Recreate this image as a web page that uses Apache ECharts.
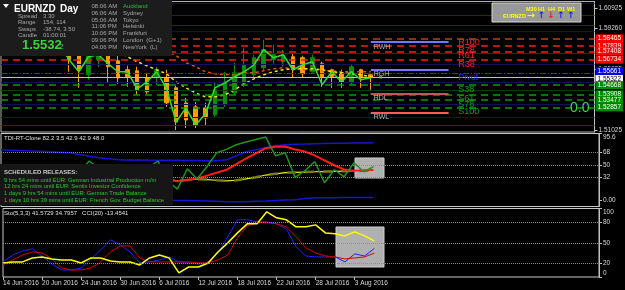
<!DOCTYPE html>
<html><head><meta charset="utf-8">
<script src="https://cdn.jsdelivr.net/npm/echarts@6/dist/echarts.min.js"></script>
<style>html,body{margin:0;padding:0;background:#000;}#c{width:625px;height:290px;}</style>
</head><body><div id="c"></div>
<script>
// ---------- data ----------
const categories = ['14 Jun 2016','15 Jun 2016','16 Jun 2016','17 Jun 2016','20 Jun 2016','21 Jun 2016','22 Jun 2016','23 Jun 2016','24 Jun 2016','27 Jun 2016','28 Jun 2016','29 Jun 2016','30 Jun 2016','1 Jul 2016','4 Jul 2016','5 Jul 2016','6 Jul 2016','7 Jul 2016','8 Jul 2016','11 Jul 2016','12 Jul 2016','13 Jul 2016','14 Jul 2016','15 Jul 2016','18 Jul 2016','19 Jul 2016','20 Jul 2016','21 Jul 2016','22 Jul 2016','25 Jul 2016','26 Jul 2016','27 Jul 2016','28 Jul 2016','29 Jul 2016','1 Aug 2016','2 Aug 2016','3 Aug 2016','4 Aug 2016','5 Aug 2016'];
const opens  = [1.59179,1.59587,1.59016,1.59342,1.58526,1.58853,1.58037,1.57547,1.57302,1.55507,1.56731,1.57139,1.56649,1.55915,1.55833,1.55262,1.55344,1.55262,1.54446,1.53222,1.52896,1.52814,1.52243,1.53141,1.54038,1.54691,1.55507,1.56078,1.56731,1.56568,1.56976,1.56894,1.55752,1.56405,1.55915,1.55670,1.54854,1.55915,1.55507];
const closes = [1.59587,1.59016,1.59342,1.58526,1.58853,1.58037,1.57547,1.56731,1.55915,1.57139,1.57139,1.56160,1.55262,1.55344,1.54283,1.54120,1.55915,1.53222,1.51672,1.51835,1.51427,1.51998,1.54283,1.54854,1.55670,1.56323,1.56894,1.57547,1.57139,1.57057,1.55915,1.55589,1.56894,1.55344,1.55344,1.54936,1.56160,1.55262,1.55322];
const lows   = [1.58771,1.58526,1.58363,1.58037,1.57955,1.57547,1.57302,1.55752,1.54446,1.55099,1.56160,1.54854,1.54773,1.54528,1.53875,1.53957,1.54691,1.52896,1.51019,1.51182,1.51182,1.51427,1.52080,1.52896,1.53875,1.54528,1.55344,1.55833,1.56405,1.56160,1.55262,1.55262,1.55670,1.54528,1.54446,1.54446,1.54691,1.54446,1.54283];
const highs  = [1.59995,1.60158,1.59832,1.59669,1.59342,1.59179,1.58363,1.57792,1.57384,1.57384,1.57384,1.57302,1.57057,1.56241,1.56160,1.55670,1.56160,1.55915,1.54609,1.53630,1.53304,1.53222,1.54936,1.55752,1.56486,1.57711,1.57139,1.58363,1.57955,1.57547,1.57302,1.57057,1.57139,1.56568,1.55997,1.55915,1.56323,1.55997,1.55589];
const priceLine = [1.59342,1.59505,1.59179,1.58934,1.58689,1.58200,1.57955,1.56731,1.55752,1.56976,1.57139,1.56405,1.55752,1.55752,1.54365,1.54936,1.55752,1.54446,1.51672,1.52814,1.51427,1.52325,1.54446,1.54854,1.55344,1.55752,1.56323,1.57547,1.56894,1.57139,1.55915,1.56323,1.56568,1.54691,1.55752,1.54936,1.55752,1.55099,1.55262];
const fastMA = [1.59587,1.59424,1.59261,1.59097,1.58934,1.58771,1.58608,1.58445,1.58281,1.58037,1.57873,1.57629,1.57384,1.56976,1.56568,1.56241,1.55915,1.55589,1.54936,1.54446,1.54038,1.53712,1.53712,1.53875,1.54283,1.54773,1.55181,1.55507,1.55752,1.55915,1.55997,1.55997,1.55997,1.55915,1.55752,1.55670,1.55589,1.55507,1.55344];
const slowMA = [1.59995,1.59913,1.59832,1.59750,1.59669,1.59587,1.59424,1.59261,1.59097,1.58934,1.58771,1.58608,1.58445,1.58281,1.58118,1.57955,1.57792,1.57465,1.57057,1.56486,1.56160,1.55752,1.55589,1.55507,1.55589,1.55670,1.55670,1.55833,1.55997,1.56078,1.55997,1.55915,1.55915,1.55833,1.55833,1.55752,1.55752,1.55752,1.55752];

const resistanceNames = ['R100','R78','R61','R38'];
const resistance = [1.58465,1.57839,1.57408,1.56734];
const pivotName = 'Pivot';
const pivot = 1.55661;
const supportNames = ['S38','S61','S78','S100'];
const support = [1.54668,1.53908,1.53477,1.52857];
const lastPrice = 1.55322;
const rangeNames = ['RWH','RGH','RDL','RWL'];
const rangeLevels = [1.58160,1.55930,1.53957,1.52420];
const darkNavyLevels = [1.61300,1.59016,1.56323,1.54936,1.53141,1.52080];
const darkGreenLevels = [1.60321,1.59505,1.57221,1.54283,1.51427];
const priceTicks = [1.60925,1.59260,1.55925,1.51025];

const tdiGreen  = [40,44,42,38,36,33,30,34,40,56,45,47,49,44,40,46,56,27.5,15.6,44.8,30,47.7,68,72.7,79.4,83.4,87,90.5,63.5,67.9,32.3,42,55.3,24.7,43.4,33.3,53.5,40.5,48.0];
const tdiRed    = [45,46,46,45,44,42,40,39,40,41,42,43,43,42,40,38,34,29,26.8,29,30.7,34.9,39,43.4,51.4,59.6,67,74.5,76.6,76.8,72.5,69.6,64.1,56.9,49.9,43.8,41.9,42.4,42.9];
const tdiYellow = [44,44,44,44,43,43,42,42,41,41,41,41,40,40,39,37,34,30,27.5,28.5,29.8,29.3,28.3,27.5,28.3,30.4,32.6,35.8,37.6,39.2,39.6,40.1,40.5,40.8,41.1,41.4,41.6,41.8,42.0];
const tdiUpper  = [72.2,71.6,71,70.5,70,69.3,68.6,67.9,65.5,63,60.7,59.2,57.8,57.6,57.5,57.3,57.2,57.1,57,56.8,56.6,56.4,56.3,57.8,63.5,69.3,72.2,75,77.9,79.4,80.1,80.4,80.8,81.1,81.4,81.6,81.8,82,82.2];
const tdiLower  = [8,8,7,7,6,6,5,4,3,3,2,2,1,1,0,0,-0.5,-0.8,-0.8,-1,-1.2,-1.5,-2,-2.5,-2.7,-2.5,-2,-1.5,-0.8,-0.2,0.2,2,3,3.1,3.2,3.3,3.3,3.4,3.5];
const tdiLevels = [68,50,32];
const tdiTicks  = [95.6,68,50,32,0];

const stoK = [22,32.2,38,41,30.7,19,10.2,10.2,13.2,26.4,39.5,54.2,46.9,36.6,20.5,22,24.9,29.3,22,20.5,19,22,35.1,58.6,83.5,83.5,80.5,80.5,77.6,70.3,43.9,30.7,29.3,29.3,29.3,22,33.7,30.7,41.6];
const stoD = [17.6,24.9,32.2,36.6,35.1,26.4,13.2,10.2,10.2,13.2,22,36.6,45.4,45.4,27.8,22,22,22,22,22,20.5,20.5,24.9,32.2,57.1,74.7,79.1,79.1,77.6,73.2,58.6,42.5,35.1,30.7,29.3,26.4,27.8,29.3,34.8];
const cci  = [20.5,22,22,27.8,29.3,26.4,24.9,24.9,20.5,27.8,27.8,23.4,22,22,17.6,27.8,32.2,27.8,6,14.6,14.6,20.5,36.6,49.8,64.4,77.6,77.6,95.2,86.4,83.5,73.2,73.2,76.1,64.4,63,60,65.9,60,52.7];
const stoLevels = [80,50,20];
const stoTicks = [100,80,50,20,0];

// ---------- chart ----------
const FONT = '"Liberation Sans", Arial, sans-serif';
const N = 62;
const axisCats = categories.concat(Array.from({length: N - categories.length}, (_, k) => 'f' + k));
const showDate = (idx) => idx % 4 === 0 && idx < categories.length - 1;
const RIGHT = 26;

const boxLabel = (bg, fg, dy) => ({show:true, position:'end', distance:1, offset:[0, dy || 0],
  formatter: p => Number(p.value).toFixed(5),
  backgroundColor:bg, color:fg, fontSize:6.5, fontFamily:FONT, padding:[1,2,0,2]});

const levelLines = [];
darkNavyLevels.forEach(p => levelLines.push({yAxis:p, lineStyle:{color:'#12124e', width:1, type:'solid'}, label:{show:false}}));
darkGreenLevels.forEach(p => levelLines.push({yAxis:p, lineStyle:{color:'#0b3d0b', width:1, type:'solid'}, label:{show:false}}));
resistance.forEach((p,k) => levelLines.push({yAxis:p, lineStyle:{color: k===0 ? '#b8460f' : '#ff1a1a', width:1.5, type:[7,5]}, label: boxLabel('#ff0000','#ffffff')}));
levelLines.push({yAxis:pivot, lineStyle:{color:'#2a2aff', width:1, type:[6,2,1,2]}, label: boxLabel('#0000ff','#ffffff', -2)});
levelLines.push({yAxis:lastPrice, lineStyle:{color:'#c0c0c0', width:1, type:'solid'}, label: boxLabel('#ffffff','#000000', 2)});
support.forEach(p => levelLines.push({yAxis:p, lineStyle:{color:'#0a9a0a', width:1.5, type:[7,5]}, label: boxLabel('#008a00','#ffffff')}));
const rangeColors = ['#7676ff','#7676ff','#c05a50','#ff5a5a'];
rangeLevels.forEach((p,k) => levelLines.push([
  {coord:[categories.length - 1, p], lineStyle:{color:rangeColors[k], width:2, type:'solid'},
   label:{show:true, position:'insideStartBottom', formatter: rangeNames[k], color:'#b8b8b8', fontSize:7, fontFamily:FONT, distance:[3,1]}},
  {coord:[categories.length + 7, p]}
]));

const levelLabelIdx = categories.length + 8;
const levelNames = resistanceNames.concat([pivotName], supportNames);
const levelValues = resistance.concat([pivot], support);
const levelColors = ['#ff2020','#ff2020','#ff2020','#ff2020','#2a2aff','#14a014','#14a014','#14a014','#14a014'];

const dotted = (vals) => ({silent:true, symbol:['none','none'], label:{show:false},
  lineStyle:{color:'#8c8c8c', type:'dotted', width:1}, data: vals.map(v => ({yAxis:v}))});

const T = (x, y, text, fill, font, align) => ({type:'text', x, y, z:101,
  style:{text, fill, font, textAlign: align || 'left', textVerticalAlign:'middle', align: align || 'left', verticalAlign:'middle'}});

const small = '6px ' + FONT;
const places = [['08:06 AM','Auckland','#22c022'],['06:06 AM','Sydney','#a8a8a8'],['05:06 AM','Tokyo','#a8a8a8'],['11:06 PM','Helsinki','#a8a8a8'],['10:06 PM','Frankfurt','#a8a8a8'],['09:06 PM','London  (G+1)','#a8a8a8'],['04:06 PM','NewYork  (L)','#a8a8a8']];
const infoRows = [['Spread','3.30'],['Range','154, 114'],['Swaps','-38.74, 3.50'],['Candle','01:00:01']];
const releases = ['9 hrs 54 mins until EUR: German Industrial Production m/m','12 hrs 24 mins until EUR: Sentix Investor Confidence','1 days 9 hrs 54 mins until EUR: German Trade Balance','1 days 10 hrs 39 mins until EUR: French Gov. Budget Balance'];

const graphics = [
  {type:'rect', z:1, shape:{x:355, y:158, width:29, height:20}, style:{fill:'#b0b0b0', stroke:'#d0d0d0', lineWidth:1}},
  {type:'rect', z:1, shape:{x:336, y:227, width:48, height:40}, style:{fill:'#b0b0b0', stroke:'#d0d0d0', lineWidth:1}},
  {type:'rect', z:100, shape:{x:0, y:0, width:172, height:56}, style:{fill:'#1c1c1c'}},
  {type:'polygon', z:101, shape:{points:[[3,4],[9,4],[6,8]]}, style:{fill:'#ffffff'}},
  T(14, 9, 'EURNZD', '#ffffff', 'bold 10px ' + FONT),
  T(60, 9, 'Day', '#ffffff', 'bold 10px ' + FONT),
  T(22, 45, '1.5532', '#3cd23c', 'bold 13px ' + FONT),
  T(59, 47, '2', '#3cd23c', '8px ' + FONT),
  {type:'rect', z:100, shape:{x:492, y:3, width:89, height:19}, style:{fill:'rgba(168,168,168,0.9)', stroke:'#d8d8d8', lineWidth:1}},
  T(526, 9, 'M30', '#ffff00', 'bold 5.5px ' + FONT),
  T(538, 9, 'H1', '#ffff00', 'bold 5.5px ' + FONT),
  T(548, 9, 'H4', '#ffff00', 'bold 5.5px ' + FONT),
  T(558, 9, 'D1', '#ffff00', 'bold 5.5px ' + FONT),
  T(567, 9, 'W1', '#ffff00', 'bold 5.5px ' + FONT),
  T(503, 16, 'EURNZD', '#ffff00', 'bold 5.5px ' + FONT),
  T(531, 16, '\u2192', '#ffff00', 'bold 9px "DejaVu Sans"', 'center'),
  T(541.5, 16, '\u2191', '#1a1aff', 'bold 9px "DejaVu Sans"', 'center'),
  T(551, 16, '\u2193', '#ff1a1a', 'bold 9px "DejaVu Sans"', 'center'),
  T(561, 16, '\u2191', '#1a1aff', 'bold 9px "DejaVu Sans"', 'center'),
  T(571, 16, '\u2191', '#1a1aff', 'bold 9px "DejaVu Sans"', 'center'),
  T(570, 108, '0.0', '#33dd33', '14px ' + FONT),
  T(4, 138.5, 'TDI-RT-Clone 82.2 3.5 42.9 42.9 48.0', '#e0e0e0', small),
  T(4, 213.5, 'Sto(5,3,3) 41.5729 34.7957   CCI(20) -13.4541', '#e0e0e0', small),
  {type:'rect', z:100, shape:{x:0, y:164, width:173, height:41}, style:{fill:'#161616'}},
  T(4, 172, 'SCHEDULED RELEASES:', '#c8c8c8', 'bold 6px ' + FONT)
];
places.forEach((r,k) => {
  graphics.push(T(91.5, 6.3 + k*6.8, r[0], '#a8a8a8', small));
  graphics.push(T(123, 6.3 + k*6.8, r[1], r[2], small));
});
infoRows.forEach((r,k) => {
  graphics.push(T(18, 16 + k*6.6, r[0], '#a8a8a8', small));
  graphics.push(T(43, 16 + k*6.6, r[1], '#a8a8a8', small));
});
releases.forEach((s,k) => graphics.push(T(4, 180 + k*6.7, s, '#2fc42f', '5.8px ' + FONT)));

const xAx = (k) => ({type:'category', gridIndex:k, data:axisCats, boundaryGap:false,
  axisLine:{show:false}, splitLine:{show:false},
  axisTick: k===2 ? {show:true, interval:(i)=>showDate(i), length:3, lineStyle:{color:'#c0c0c0'}} : {show:false},
  axisLabel: k===2 ? {show:true, interval:(i)=>showDate(i), align:'left', margin:3, color:'#d8d8d8', fontSize:6.5, fontFamily:FONT} : {show:false}});

const yCommon = {position:'right', splitLine:{show:false},
  axisLine:{show:true, lineStyle:{color:'#c0c0c0'}}};
const edgeRich = {dn:{padding:[7,0,0,0], fontSize:6.5, color:'#d8d8d8'}, up:{padding:[0,0,7,0], fontSize:6.5, color:'#d8d8d8'}};

const option = {
  backgroundColor:'#000000',
  animation:false,
  textStyle:{fontFamily:FONT},
  grid:[
    {left:1, right:RIGHT, top:1.5, height:130.5, show:true, borderColor:'#b0b0b0', borderWidth:1, backgroundColor:'transparent'},
    {left:1, right:RIGHT, top:133.5, height:73, show:true, borderColor:'#c8c8c8', borderWidth:1, backgroundColor:'transparent'},
    {left:1, right:RIGHT, top:208.5, height:68.5, show:true, borderColor:'#c8c8c8', borderWidth:1, backgroundColor:'transparent'}
  ],
  xAxis:[xAx(0), xAx(1), xAx(2)],
  yAxis:[
    Object.assign({}, yCommon, {gridIndex:0, min:1.50856, max:1.61464,
      axisTick:{show:true, length:3, customValues:priceTicks, lineStyle:{color:'#c0c0c0'}},
      axisLabel:{customValues:priceTicks, formatter:v=>Number(v).toFixed(5), color:'#d8d8d8', fontSize:6.5, margin:4, fontFamily:FONT}}),
    Object.assign({}, yCommon, {gridIndex:1, min:-9.5, max:95.6,
      axisTick:{show:true, length:3, customValues:tdiTicks, lineStyle:{color:'#c0c0c0'}},
      axisLabel:{customValues:tdiTicks, formatter:v=> v===0 ? '0.00' : (v===95.6 ? '{dn|95.6}' : String(v)), rich:edgeRich, color:'#d8d8d8', fontSize:6.5, margin:4, fontFamily:FONT}}),
    Object.assign({}, yCommon, {gridIndex:2, min:0, max:100,
      axisTick:{show:true, length:3, customValues:stoTicks, lineStyle:{color:'#c0c0c0'}},
      axisLabel:{customValues:stoTicks, formatter:v=> v===100 ? '{dn|100}' : (v===0 ? '{up|0}' : String(v)), rich:edgeRich, color:'#d8d8d8', fontSize:6.5, margin:4, fontFamily:FONT}})
  ],
  graphic: graphics,
  series:[
    {type:'line', name:'levels', xAxisIndex:0, yAxisIndex:0, data:closes, symbol:'none', z:1, silent:true,
     lineStyle:{opacity:0},
     markLine:{silent:true, precision:5, symbol:['none','none'], data:levelLines}},
    {type:'candlestick', name:'EURNZD', xAxisIndex:0, yAxisIndex:0, z:3, barWidth:4,
     data: opens.map((o,i)=>[o, closes[i], lows[i], highs[i]]),
     itemStyle:{color:'#0b8c0b', color0:'#ff9a00', borderColor:'#0b8c0b', borderColor0:'#ff9a00', borderWidth:1}},
    {type:'line', name:'slowMA', xAxisIndex:0, yAxisIndex:0, data:slowMA, symbol:'none', z:4, lineStyle:{color:'#e0501a', width:1.5, type:[3,3]}},
    {type:'line', name:'fastMA', xAxisIndex:0, yAxisIndex:0, data:fastMA, symbol:'none', z:4, lineStyle:{color:'#e6e61a', width:1.5, type:[3,3]}},
    {type:'line', name:'price', xAxisIndex:0, yAxisIndex:0, data:priceLine, symbol:'none', z:5, lineStyle:{color:'#2fe02f', width:1.5}},
    {type:'scatter', name:'marker', xAxisIndex:0, yAxisIndex:0, symbol:'rect', symbolSize:3, z:5,
     itemStyle:{color:'#2fe02f'}, data:[[categories.length, lastPrice]]},
    {type:'scatter', name:'levelLabels', xAxisIndex:0, yAxisIndex:0, symbol:'circle', symbolSize:0.1, z:20, silent:true,
     itemStyle:{color:'#000000'},
     data: levelNames.map((n,k)=>({name:n, value:[levelLabelIdx, levelValues[k]], label:{color:levelColors[k]}})),
     label:{show:true, position:'right', distance:0, offset:[0,4.5], formatter:p=>p.name, fontSize:9, fontFamily:FONT, opacity:1, textBorderWidth:0}},
    {type:'line', name:'tdiUpper', xAxisIndex:1, yAxisIndex:1, data:tdiUpper, symbol:'none', z:2, lineStyle:{color:'#1414d8', width:1.5},
     markLine: dotted(tdiLevels)},
    {type:'line', name:'tdiLower', xAxisIndex:1, yAxisIndex:1, data:tdiLower, symbol:'none', z:2, lineStyle:{color:'#1414d8', width:1.5}},
    {type:'line', name:'tdiYellow', xAxisIndex:1, yAxisIndex:1, data:tdiYellow, symbol:'none', z:3, lineStyle:{color:'#f0f000', width:1.2}},
    {type:'line', name:'tdiYellowBase', xAxisIndex:1, yAxisIndex:1, data:tdiYellow, symbol:'none', z:3, lineStyle:{color:'#7a7a10', width:2.5, type:[9,9]}},
    {type:'line', name:'tdiRed', xAxisIndex:1, yAxisIndex:1, data:tdiRed, symbol:'none', z:4, lineStyle:{color:'#ff1a1a', width:2}},
    {type:'line', name:'tdiGreen', xAxisIndex:1, yAxisIndex:1, data:tdiGreen, symbol:'none', z:5, lineStyle:{color:'#1c961c', width:1.5}},
    {type:'line', name:'stoK', xAxisIndex:2, yAxisIndex:2, data:stoK, symbol:'none', z:3, lineStyle:{color:'#2020ff', width:1},
     markLine: dotted(stoLevels)},
    {type:'line', name:'stoD', xAxisIndex:2, yAxisIndex:2, data:stoD, symbol:'none', z:3, lineStyle:{color:'#d80000', width:1}},
    {type:'line', name:'cci', xAxisIndex:2, yAxisIndex:2, data:cci, symbol:'none', z:4, lineStyle:{color:'#ffff00', width:1.5}}
  ]
};
const chart = echarts.init(document.getElementById('c'), null, {renderer:'canvas'});
chart.setOption(option);
</script></body></html>
